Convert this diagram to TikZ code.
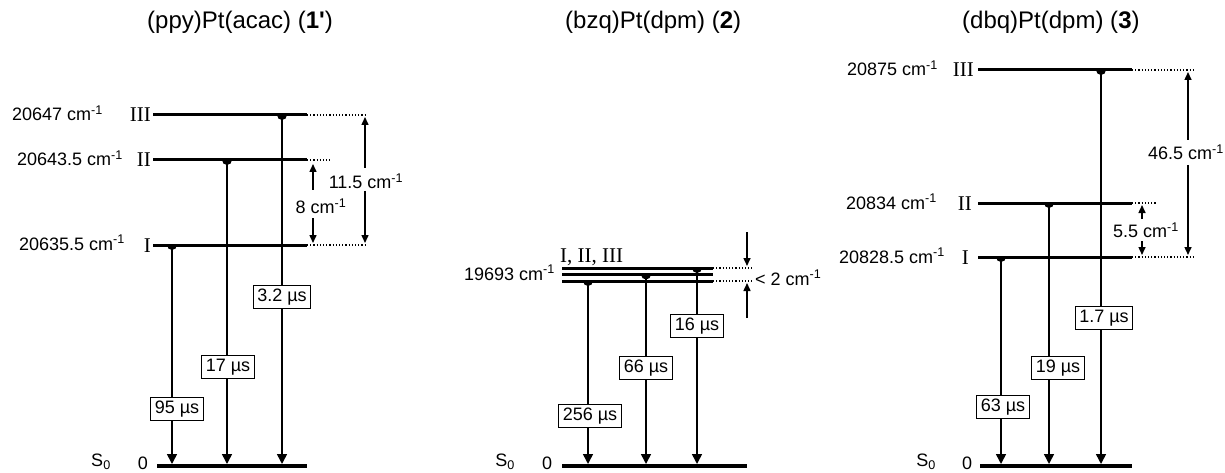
\documentclass[tikz,border=0pt]{standalone}
\usepackage{fontspec}
\setmainfont{Liberation Sans}
\newfontfamily\romanfont{Liberation Serif}
\usetikzlibrary{arrows.meta}

\newcommand{\wavenum}[1]{#1 cm\textsuperscript{-1}}
\newcommand{\halfdot}[1]{\fill ([xshift=-5pt]#1) arc[start angle=180, end angle=360, radius=5pt] -- cycle;}

\begin{document}
\begin{tikzpicture}[x=1pt, y=-1pt,
    every node/.style={font=\fontsize{18}{20}\selectfont, inner sep=0pt},
    title/.style={font=\fontsize{24}{26}\selectfont, anchor=base west},
    level/.style={line width=3pt},
    ground/.style={line width=4pt},
    ext/.style={line width=1.2pt, dotted},
    trans/.style={line width=1.6pt, -{Triangle[length=10pt,width=10pt]}},
    gap/.style={line width=1.5pt, -{Triangle[length=8pt,width=7pt]}},
    lifetime/.style={draw, line width=0.9pt, fill=white, inner xsep=4pt,
                     inner ysep=3pt, text height=13pt, text depth=4pt},
    energy/.style={anchor=base east},
    numeral/.style={font=\romanfont\fontsize{21}{22}\selectfont, anchor=base east}]
  \useasboundingbox (0,0) rectangle (1225,473);

  % (ppy)Pt(acac) (1')
  \node[title] (tA) at (147,29) {(ppy)Pt(acac) (\textbf{1\textquotesingle})};
  \coordinate (A3l) at (153,115); \coordinate (A3r) at (307,115); \coordinate (A3e) at (367,115);
  \coordinate (A2l) at (153,160); \coordinate (A2r) at (307,160); \coordinate (A2e) at (330,160);
  \coordinate (A1l) at (153,245); \coordinate (A1r) at (307,245); \coordinate (A1e) at (367,245);
  \coordinate (A0l) at (157,466); \coordinate (A0r) at (307,466);
  \draw[level] (A3l) -- (A3r);
  \draw[level] (A2l) -- (A2r);
  \draw[level] (A1l) -- (A1r);
  \draw[ground] (A0l) -- (A0r);
  \draw[ext] (A3r) -- (A3e);
  \draw[ext] (A2r) -- (A2e);
  \draw[ext] (A1r) -- (A1e);
  \node[energy] (eA3) at (103,121) {\wavenum{20647}};
  \node[energy] (eA2) at (123,166) {\wavenum{20643.5}};
  \node[energy] (eA1) at (125,250) {\wavenum{20635.5}};
  \node[numeral] (nA3) at (151,122) {III};
  \node[numeral] (nA2) at (151,167) {II};
  \node[numeral] (nA1) at (151,252) {I};
  \node (sA) at (101,462) {S\textsubscript{0}};
  \node (zA) at (143,463) {0};
  \coordinate (A1t) at (172,245); \coordinate (A1g) at (172,464);
  \coordinate (A2t) at (227,160); \coordinate (A2g) at (227,464);
  \coordinate (A3t) at (282,115); \coordinate (A3g) at (282,464);
  \draw[trans] (A1t) -- (A1g); \halfdot{A1t}
  \draw[trans] (A2t) -- (A2g); \halfdot{A2t}
  \draw[trans] (A3t) -- (A3g); \halfdot{A3t}
  \node[lifetime] (bA1) at (177,409) {95 µs};
  \node[lifetime] (bA2) at (228,367) {17 µs};
  \node[lifetime] (bA3) at (282,297) {3.2 µs};
  % splittings
  \node (dA8) at (321,206) {\wavenum{8}};
  \coordinate (dA8u) at (313,190); \coordinate (dA8ut) at (313,164);
  \coordinate (dA8d) at (313,218); \coordinate (dA8dt) at (313,243);
  \draw[gap] (dA8u) -- (dA8ut);
  \draw[gap] (dA8d) -- (dA8dt);
  \node (dA11) at (366,181) {\wavenum{11.5}};
  \coordinate (dA11u) at (365,168); \coordinate (dA11ut) at (365,117);
  \coordinate (dA11d) at (365,191); \coordinate (dA11dt) at (365,243);
  \draw[gap] (dA11u) -- (dA11ut);
  \draw[gap] (dA11d) -- (dA11dt);

  % (bzq)Pt(dpm) (2)
  \node[title] (tB) at (565,29) {(bzq)Pt(dpm) (\textbf{2})};
  \coordinate (B3l) at (562,268); \coordinate (B3r) at (713,268); \coordinate (B3e) at (752,268);
  \coordinate (B2l) at (562,274.5); \coordinate (B2r) at (713,274.5);
  \coordinate (B1l) at (562,281); \coordinate (B1r) at (713,281); \coordinate (B1e) at (752,281);
  \coordinate (B0l) at (562,466); \coordinate (B0r) at (747,466);
  \draw[level] (B3l) -- (B3r);
  \draw[level] (B2l) -- (B2r);
  \draw[level] (B1l) -- (B1r);
  \draw[ground] (B0l) -- (B0r);
  \draw[ext] (B3r) -- (B3e);
  \draw[ext] (B1r) -- (B1e);
  \node[energy] (eB) at (555,280) {\wavenum{19693}};
  \node[numeral, anchor=base west] (nB) at (560,262) {I, II, III};
  \node (sB) at (505,462) {S\textsubscript{0}};
  \node (zB) at (547,463) {0};
  \coordinate (B1t) at (588,281); \coordinate (B1g) at (588,464);
  \coordinate (B2t) at (646,274.5); \coordinate (B2g) at (646,464);
  \coordinate (B3t) at (697,268); \coordinate (B3g) at (697,464);
  \draw[trans] (B1t) -- (B1g); \halfdot{B1t}
  \draw[trans] (B2t) -- (B2g); \halfdot{B2t}
  \draw[trans] (B3t) -- (B3g); \halfdot{B3t}
  \node[lifetime] (bB1) at (590,416) {256 µs};
  \node[lifetime] (bB2) at (646,368) {66 µs};
  \node[lifetime] (bB3) at (697,326) {16 µs};
  % splitting
  \node[anchor=base west] (dB) at (755,285) {< \wavenum{2}};
  \coordinate (dBu) at (747,232); \coordinate (dBut) at (747,266);
  \coordinate (dBd) at (747,318); \coordinate (dBdt) at (747,283);
  \draw[gap] (dBu) -- (dBut);
  \draw[gap] (dBd) -- (dBdt);

  % (dbq)Pt(dpm) (3)
  \node[title] (tC) at (962,29) {(dbq)Pt(dpm) (\textbf{3})};
  \coordinate (C3l) at (978,70); \coordinate (C3r) at (1132,70); \coordinate (C3e) at (1193,70);
  \coordinate (C2l) at (978,203); \coordinate (C2r) at (1132,203); \coordinate (C2e) at (1157,203);
  \coordinate (C1l) at (978,257); \coordinate (C1r) at (1132,257); \coordinate (C1e) at (1193,257);
  \coordinate (C0l) at (980,466); \coordinate (C0r) at (1132,466);
  \draw[level] (C3l) -- (C3r);
  \draw[level] (C2l) -- (C2r);
  \draw[level] (C1l) -- (C1r);
  \draw[ground] (C0l) -- (C0r);
  \draw[ext] (C3r) -- (C3e);
  \draw[ext] (C2r) -- (C2e);
  \draw[ext] (C1r) -- (C1e);
  \node[energy] (eC3) at (938,76) {\wavenum{20875}};
  \node[energy] (eC2) at (937,209) {\wavenum{20834}};
  \node[energy] (eC1) at (945,263) {\wavenum{20828.5}};
  \node[numeral] (nC3) at (974,77) {III};
  \node[numeral] (nC2) at (972,210) {II};
  \node[numeral] (nC1) at (969,264) {I};
  \node (sC) at (926,462) {S\textsubscript{0}};
  \node (zC) at (967,463) {0};
  \coordinate (C1t) at (1001,257); \coordinate (C1g) at (1001,464);
  \coordinate (C2t) at (1049,203); \coordinate (C2g) at (1049,464);
  \coordinate (C3t) at (1101,70); \coordinate (C3g) at (1101,464);
  \draw[trans] (C1t) -- (C1g); \halfdot{C1t}
  \draw[trans] (C2t) -- (C2g); \halfdot{C2t}
  \draw[trans] (C3t) -- (C3g); \halfdot{C3t}
  \node[lifetime] (bC1) at (1003,407) {63 µs};
  \node[lifetime] (bC2) at (1058,368) {19 µs};
  \node[lifetime] (bC3) at (1104,318) {1.7 µs};
  % splittings
  \node (dC5) at (1146,230) {\wavenum{5.5}};
  \coordinate (dC5u) at (1142,219); \coordinate (dC5ut) at (1142,205);
  \coordinate (dC5d) at (1142,241); \coordinate (dC5dt) at (1142,255);
  \draw[gap] (dC5u) -- (dC5ut);
  \draw[gap] (dC5d) -- (dC5dt);
  \node (dC46) at (1186,152) {\wavenum{46.5}};
  \coordinate (dC46u) at (1188,140); \coordinate (dC46ut) at (1188,72);
  \coordinate (dC46d) at (1188,165); \coordinate (dC46dt) at (1188,255);
  \draw[gap] (dC46u) -- (dC46ut);
  \draw[gap] (dC46d) -- (dC46dt);
\end{tikzpicture}
\end{document}
